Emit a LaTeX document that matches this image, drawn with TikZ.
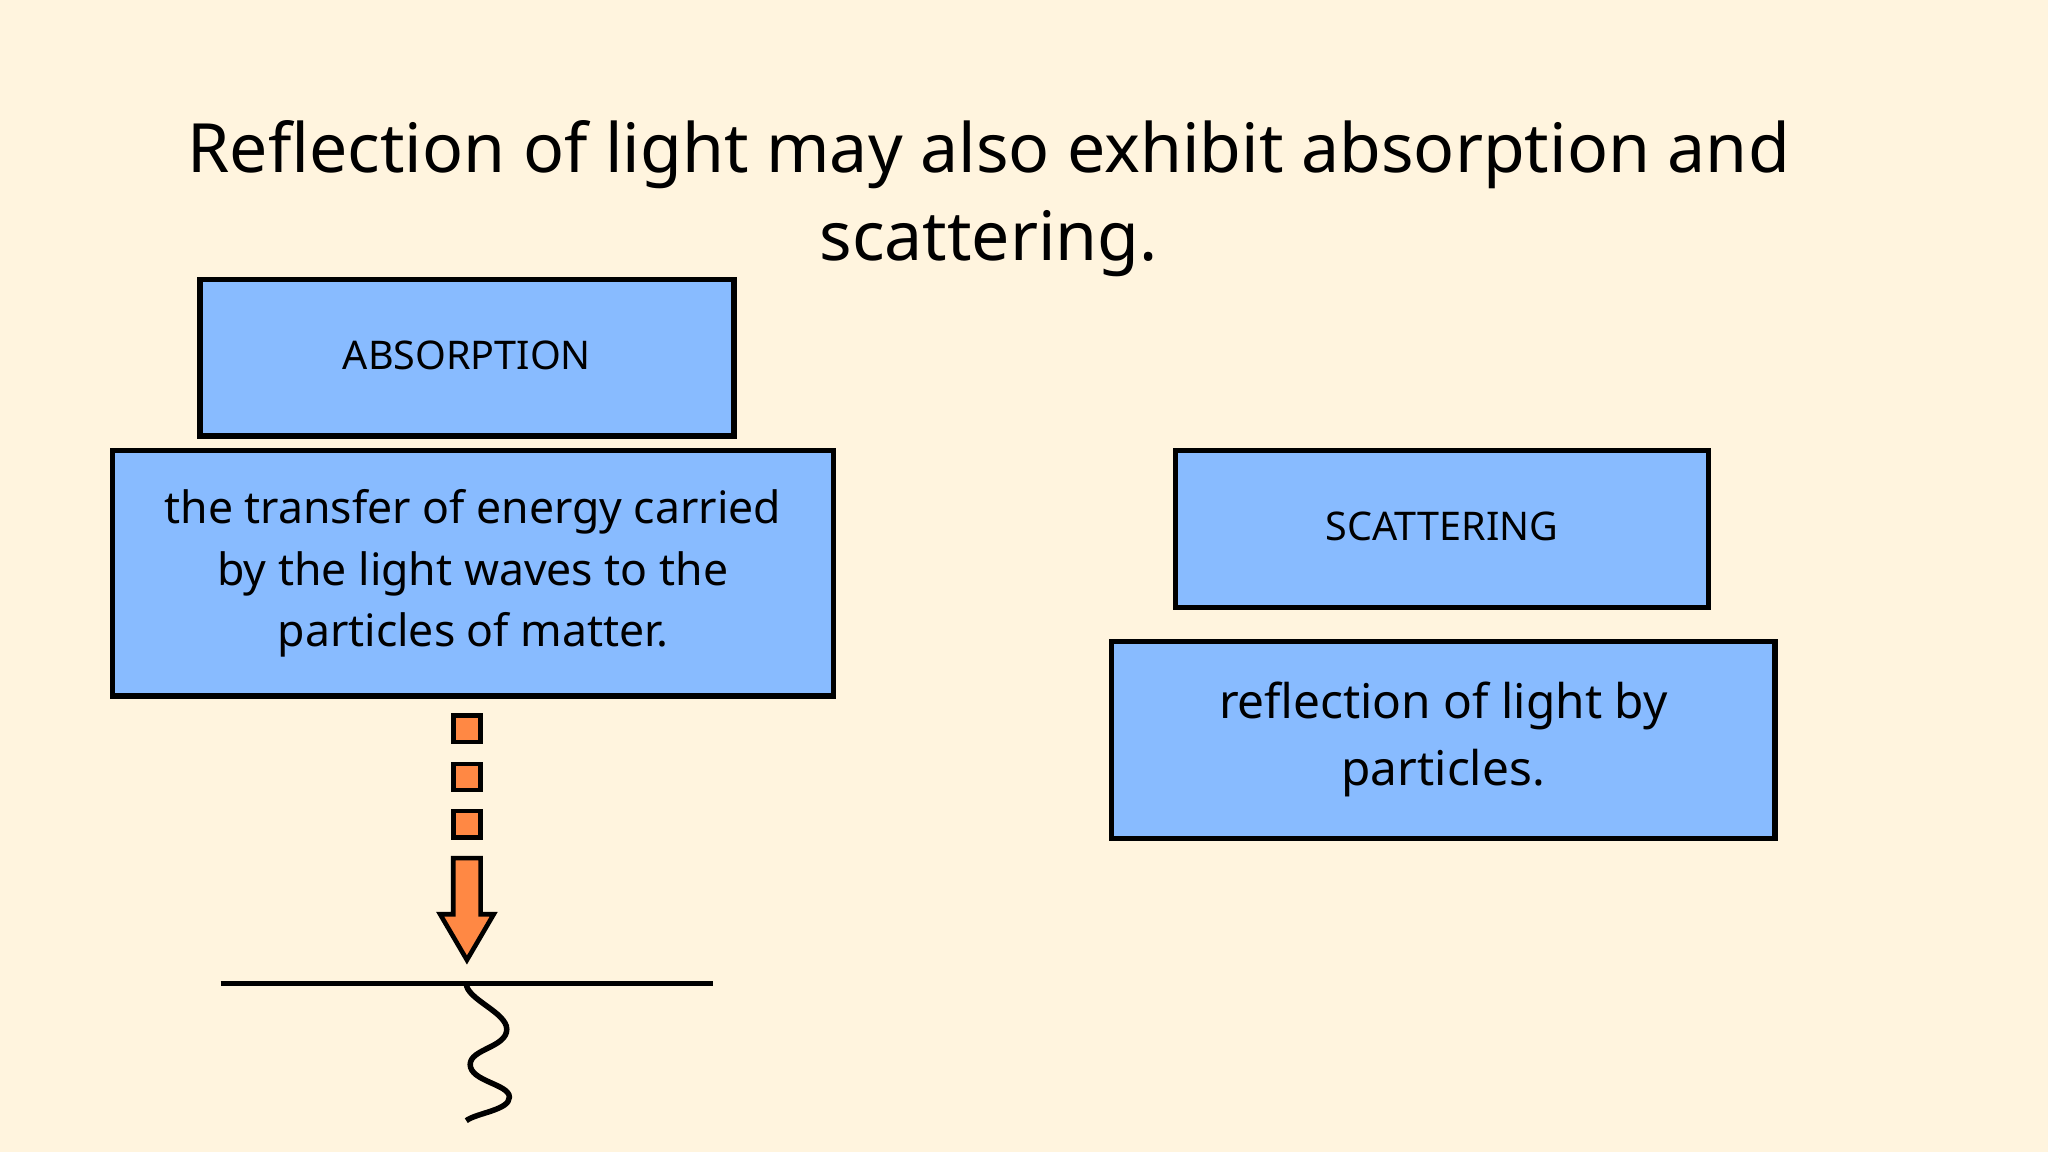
\documentclass[tikz,border=0pt]{standalone}
\usepackage{fontspec}
\setmainfont{Noto Sans}
\definecolor{bg}{HTML}{FFF4DE}
\definecolor{boxblue}{HTML}{88BBFF}
\definecolor{orng}{HTML}{FF8844}
\begin{document}
\begin{tikzpicture}[x=0.01cm,y=-0.01cm,
  bluebox/.style={draw=black,line width=1.2pt,fill=boxblue,inner sep=0pt},
  sq/.style={draw=black,line width=1pt,fill=orng}]
\fill[bg] (0,0) rectangle (1568,882);
\useasboundingbox (0,0) rectangle (1568,882);
\node[align=center,font=\fontsize{14.8}{19}\selectfont] (title) at (757,152) {Reflection of light may also exhibit absorption and\\scattering.};
\draw[bluebox] (153,214) rectangle (562,334);
\node[font=\fontsize{8.6}{10}\selectfont\bfseries] (abs) at (357.5,272) {ABSORPTION};
\draw[bluebox] (86,345) rectangle (638,533);
\node[align=center,font=\fontsize{9.7}{13.4}\selectfont] (absd) at (362,439) {the transfer of energy carried\\by the light waves to the\\particles of matter.};
\draw[bluebox] (900,345) rectangle (1308,465);
\node[font=\fontsize{8.6}{10}\selectfont\bfseries] (sca) at (1104,403) {SCATTERING};
\draw[bluebox] (851,491) rectangle (1359,642);
\node[align=center,font=\fontsize{10.4}{14.5}\selectfont] (scad) at (1105,566) {reflection of light by\\particles.};
\draw[sq] (347,548) rectangle (368,568);
\draw[sq] (347,585) rectangle (368,605);
\draw[sq] (347,621) rectangle (368,641);
\draw[sq,line join=miter] (347,657) -- (368,657) -- (368,700) -- (378,700) -- (357.5,735) -- (337,700) -- (347,700) -- cycle;
\coordinate (la) at (169,753);
\coordinate (lb) at (546,753);
\draw[line width=1.2pt] (la) -- (lb);
\coordinate (w0) at (357,753);
\draw[line width=1.2pt] (w0) .. controls (357,765) and (388,775) .. (388,788)
  .. controls (388,802) and (360,803) .. (360,815)
  .. controls (360,828) and (390,830) .. (390,840)
  .. controls (390,850) and (365,852) .. (357,858);
\end{tikzpicture}
\end{document}
